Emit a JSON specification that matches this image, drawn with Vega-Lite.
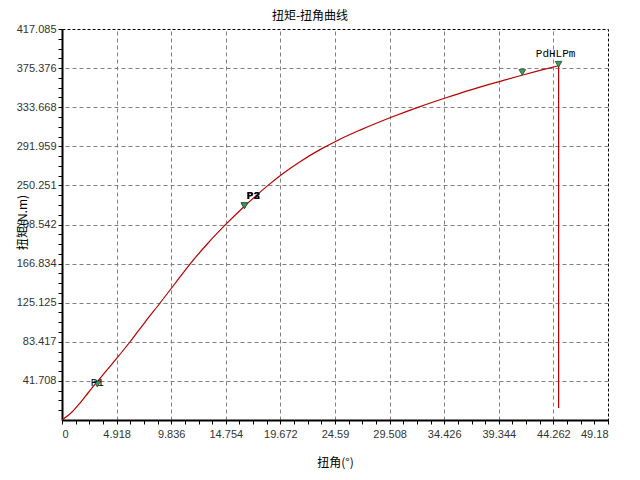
{
  "$schema": "https://vega.github.io/schema/vega-lite/v6.json",
  "width": 546,
  "height": 391,
  "autosize": {"type": "none"},
  "padding": {"left": 62, "top": 29, "right": 32, "bottom": 60},
  "background": "white",
  "title": {
    "text": "扭矩-扭角曲线",
    "font": "Noto Sans CJK SC",
    "fontSize": 12,
    "fontWeight": "normal",
    "color": "black",
    "offset": 0,
    "dx": -25
  },
  "config": {
    "view": {"stroke": "black", "strokeDash": [3, 2], "strokeWidth": 1},
    "axis": {
      "labelFont": "Liberation Sans",
      "labelFontSize": 11,
      "labelColor": "#333333",
      "titleFont": "Noto Sans CJK SC",
      "titleFontSize": 12,
      "titleFontWeight": "normal",
      "titleColor": "black",
      "domainColor": "black",
      "domainWidth": 2,
      "tickColor": "black",
      "gridColor": "#808080",
      "gridDash": [4, 3],
      "gridWidth": 1,
      "labelOverlap": false
    }
  },
  "datasets": {
    "curve": [
      {"angle": 0, "torque": 0},
      {"angle": 0.9, "torque": 8.5},
      {"angle": 1.62, "torque": 18.1},
      {"angle": 2.34, "torque": 28.8},
      {"angle": 3.15, "torque": 40.5},
      {"angle": 4.5, "torque": 59.7},
      {"angle": 6.12, "torque": 83.2},
      {"angle": 7.48, "torque": 104.5},
      {"angle": 8.83, "torque": 124.8},
      {"angle": 10.18, "torque": 145.6},
      {"angle": 11.53, "torque": 166.4},
      {"angle": 13.06, "torque": 187.5},
      {"angle": 14.68, "torque": 207.8},
      {"angle": 16.48, "torque": 228.6},
      {"angle": 18.56, "torque": 250.3},
      {"angle": 19.82, "torque": 262.2},
      {"angle": 21.44, "torque": 275.6},
      {"angle": 23.24, "torque": 288.4},
      {"angle": 24.86, "torque": 298.5},
      {"angle": 26.84, "torque": 309.2},
      {"angle": 29.72, "torque": 323.2},
      {"angle": 32.25, "torque": 334.3},
      {"angle": 34.59, "torque": 343.7},
      {"angle": 36.75, "torque": 351.9},
      {"angle": 39.63, "torque": 361.8},
      {"angle": 41.34, "torque": 367.5},
      {"angle": 43.05, "torque": 372.9},
      {"angle": 44.73, "torque": 377.9}
    ],
    "drop": [
      {"angle": 44.73, "top": 377.9, "bottom": 12.8}
    ],
    "markers": [
      {"name": "P1", "angle": 3.18, "torque": 38.4},
      {"name": "P2", "angle": 16.43, "torque": 228.6},
      {"name": "P3", "angle": 16.43, "torque": 228.6},
      {"name": "M", "angle": 41.46, "torque": 370.9},
      {"name": "PdHLPm", "angle": 44.73, "torque": 379.5}
    ]
  },
  "layer": [
    {
      "data": {"name": "curve"},
      "mark": {"type": "line", "color": "#b80000", "strokeWidth": 1.2, "clip": true, "interpolate": "monotone"},
      "encoding": {
        "x": {
          "field": "angle",
          "type": "quantitative",
          "scale": {"domain": [0, 49.18], "nice": false, "zero": false},
          "axis": {
            "orient": "bottom",
            "title": "扭角(°)",
            "grid": false,
            "values": [0, 1.2295, 2.459, 3.6885, 4.918, 6.1475, 7.377, 8.6065, 9.836, 11.0655, 12.295, 13.5245, 14.754, 15.9835, 17.213, 18.4425, 19.672, 20.9015, 22.131, 23.3605, 24.59, 25.8195, 27.049, 28.2785, 29.508, 30.7375, 31.967, 33.1965, 34.426, 35.6555, 36.885, 38.1145, 39.344, 40.5735, 41.803, 43.0325, 44.262, 45.4915, 46.721, 47.9505, 49.18],
            "labelExpr": "indexof([0, 4.918, 9.836, 14.754, 19.672, 24.59, 29.508, 34.426, 39.344, 44.262, 49.18], datum.value) >= 0 ? datum.value + '' : ''",
            "tickSize": 4,
            "labelPadding": 4,
            "titleY": 37,
            "titleBaseline": "top"
          }
        },
        "y": {
          "field": "torque",
          "type": "quantitative",
          "scale": {"domain": [0, 417.085], "nice": false, "zero": false},
          "axis": {
            "orient": "left",
            "title": "扭矩(N.m)",
            "grid": false,
            "values": [10.427, 20.854, 31.281, 41.708, 52.135, 62.563, 72.99, 83.417, 93.844, 104.271, 114.698, 125.125, 135.553, 145.98, 156.407, 166.834, 177.261, 187.688, 198.115, 208.542, 218.97, 229.397, 239.824, 250.251, 260.678, 271.105, 281.532, 291.959, 302.387, 312.814, 323.241, 333.668, 344.095, 354.522, 364.949, 375.376, 385.804, 396.231, 406.658, 417.085],
            "labelExpr": "indexof([41.708, 83.417, 125.125, 166.834, 208.542, 250.251, 291.959, 333.668, 375.376, 417.085], datum.value) >= 0 ? datum.value + '' : ''",
            "tickSize": 4,
            "labelPadding": 2,
            "titleX": -40,
            "titleY": 193,
            "titleAngle": -90,
            "titleBaseline": "middle",
            "titleAlign": "center"
          }
        }
      }
    },
    {
      "data": {"name": "drop"},
      "mark": {"type": "rule", "color": "#b80000", "strokeWidth": 1.2},
      "encoding": {
        "x": {
          "field": "angle",
          "type": "quantitative",
          "axis": {
            "orient": "top",
            "title": null,
            "grid": true,
            "labels": false,
            "ticks": false,
            "domain": false,
            "values": [4.918, 9.836, 14.754, 19.672, 24.59, 29.508, 34.426, 39.344, 44.262]
          }
        },
        "y": {
          "field": "top",
          "type": "quantitative",
          "axis": {
            "orient": "right",
            "title": null,
            "grid": true,
            "labels": false,
            "ticks": false,
            "domain": false,
            "values": [41.708, 83.417, 125.125, 166.834, 208.542, 250.251, 291.959, 333.668, 375.376]
          }
        },
        "y2": {"field": "bottom"}
      }
    },
    {
      "data": {"name": "markers"},
      "mark": {"type": "point", "shape": "triangle-down", "filled": true, "size": 45, "fill": "#3c9a5c", "stroke": "#1f4f2f", "strokeWidth": 0.8, "opacity": 1},
      "encoding": {
        "x": {"field": "angle", "type": "quantitative", "axis": null},
        "y": {"field": "torque", "type": "quantitative", "axis": null}
      }
    },
    {
      "data": {"name": "markers"},
      "transform": [{"filter": "datum.name === 'P1'"}],
      "mark": {"type": "text", "font": "Liberation Mono", "fontSize": 11, "color": "black", "dx": 0, "dy": -1},
      "encoding": {
        "x": {"field": "angle", "type": "quantitative", "axis": null},
        "y": {"field": "torque", "type": "quantitative", "axis": null},
        "text": {"field": "name"}
      }
    },
    {
      "data": {"name": "markers"},
      "transform": [{"filter": "datum.name === 'P2' || datum.name === 'P3'"}],
      "mark": {"type": "text", "font": "Liberation Mono", "fontSize": 11, "fontWeight": "bold", "color": "black", "dx": 9, "dy": -10},
      "encoding": {
        "x": {"field": "angle", "type": "quantitative", "axis": null},
        "y": {"field": "torque", "type": "quantitative", "axis": null},
        "text": {"field": "name"}
      }
    },
    {
      "data": {"name": "markers"},
      "transform": [{"filter": "datum.name === 'PdHLPm'"}],
      "mark": {"type": "text", "font": "Liberation Mono", "fontSize": 11, "color": "black", "dx": -3, "dy": -10},
      "encoding": {
        "x": {"field": "angle", "type": "quantitative", "axis": null},
        "y": {"field": "torque", "type": "quantitative", "axis": null},
        "text": {"field": "name"}
      }
    }
  ],
  "resolve": {"axis": {"x": "independent", "y": "independent"}}
}
